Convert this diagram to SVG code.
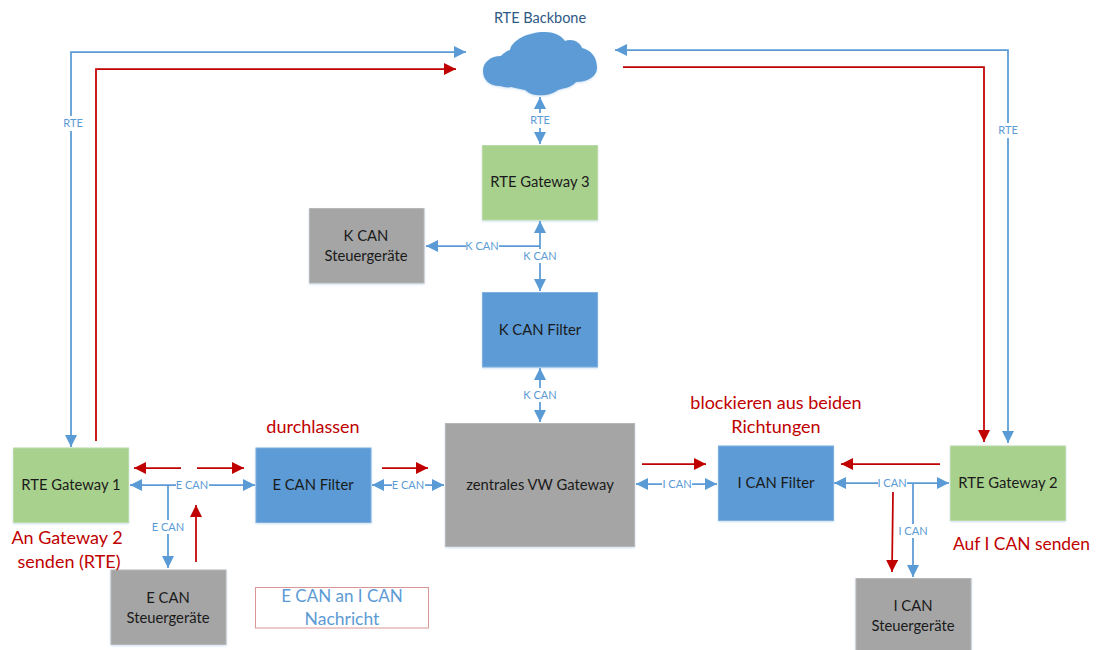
<svg xmlns="http://www.w3.org/2000/svg" width="1096" height="650" viewBox="0 0 1096 650">
<style>
text{font-family:"Lato","Liberation Sans",sans-serif;text-anchor:middle}
.n{stroke-width:1;filter:url(#sh)}
.g{fill:#A9D18E;stroke:#BBDBA6}
.b{fill:#5B9BD5;stroke:#7FB0DF}
.y{fill:#A5A5A5;stroke:#B7B7B7}
.t{font-size:14.8px;fill:#1a1a1a}
.l{font-size:11px;fill:#5B9BD5}
.r{font-size:18px;fill:#C00000}
.cb{fill:none;stroke:#5B9BD5;stroke-width:1.75}
.cr{fill:none;stroke:#C00000;stroke-width:1.75}
.lb{fill:#fff}
</style>
<defs>
<filter id="sh" x="-10%" y="-10%" width="120%" height="120%"><feDropShadow dx="0" dy="1" stdDeviation="1" flood-color="#5B9BD5" flood-opacity="0.3"/></filter>
<marker id="ab" viewBox="0 0 10 10" refX="10" refY="5" markerUnits="userSpaceOnUse" markerWidth="12" markerHeight="12" orient="auto-start-reverse"><path d="M0,0L10,5L0,10z" fill="#5B9BD5"/></marker>
<marker id="ar" viewBox="0 0 10 10" refX="10" refY="5" markerUnits="userSpaceOnUse" markerWidth="12" markerHeight="12" orient="auto-start-reverse"><path d="M0,0L10,5L0,10z" fill="#C00000"/></marker>
</defs>
<g id="connectors">
<path class="cb" marker-start="url(#ab)" marker-end="url(#ab)" d="M71,447V52H466"/>
<path class="cr" marker-end="url(#ar)" d="M96,441V69H456"/>
<path class="cb" marker-start="url(#ab)" marker-end="url(#ab)" d="M1008,443V50H615"/>
<path class="cr" marker-end="url(#ar)" d="M623,67H984V442"/>
<path class="cb" marker-start="url(#ab)" marker-end="url(#ab)" d="M540,97V144"/>
<path class="cb" marker-start="url(#ab)" marker-end="url(#ab)" d="M540,221V291"/>
<path class="cb" marker-end="url(#ab)" d="M540,246H426"/>
<path class="cb" marker-start="url(#ab)" marker-end="url(#ab)" d="M540,368V422"/>
<path class="cb" marker-start="url(#ab)" marker-end="url(#ab)" d="M130,485H255"/>
<path class="cb" marker-end="url(#ab)" d="M168,485V568"/>
<path class="cb" marker-start="url(#ab)" marker-end="url(#ab)" d="M372,485H444"/>
<path class="cb" marker-start="url(#ab)" marker-end="url(#ab)" d="M636,484H717"/>
<path class="cb" marker-start="url(#ab)" marker-end="url(#ab)" d="M834,483H949"/>
<path class="cb" marker-end="url(#ab)" d="M913,483V577"/>
<path class="cr" marker-end="url(#ar)" d="M181,468H134"/>
<path class="cr" marker-end="url(#ar)" d="M197,468H244"/>
<path class="cr" marker-end="url(#ar)" d="M196,562V505"/>
<path class="cr" marker-end="url(#ar)" d="M382,468H428"/>
<path class="cr" marker-end="url(#ar)" d="M642,464H706"/>
<path class="cr" marker-end="url(#ar)" d="M940,464H841"/>
<path class="cr" marker-end="url(#ar)" d="M893,492L892,572"/>
<rect class="lb" x="62" y="116" width="22" height="15"/><text class="l" x="73" y="127">RTE</text>
<rect class="lb" x="997" y="123" width="22" height="15"/><text class="l" x="1008" y="134">RTE</text>
<rect class="lb" x="529" y="113" width="22" height="15"/><text class="l" x="540" y="124">RTE</text>
<rect class="lb" x="466" y="239" width="33" height="14"/><text class="l" x="482" y="250">K CAN</text>
<rect class="lb" x="523" y="249" width="34" height="14"/><text class="l" x="540" y="260">K CAN</text>
<rect class="lb" x="523" y="388" width="34" height="14"/><text class="l" x="540" y="399">K CAN</text>
<rect class="lb" x="176" y="478" width="33" height="14"/><text class="l" x="192" y="489">E CAN</text>
<rect class="lb" x="152" y="520" width="33" height="14"/><text class="l" x="168" y="531">E CAN</text>
<rect class="lb" x="392" y="478" width="33" height="14"/><text class="l" x="408" y="489">E CAN</text>
<rect class="lb" x="662" y="477" width="30" height="14"/><text class="l" x="677" y="488">I CAN</text>
<rect class="lb" x="878" y="476" width="29" height="14"/><text class="l" x="892" y="487">I CAN</text>
<rect class="lb" x="899" y="524" width="28" height="14"/><text class="l" x="913" y="535">I CAN</text>
</g>
<g id="cloud"><path d="M483,71C483,62 491,56 501,56C503,54 506,51 510,50C512,40 528,32 545,32C553,32 561,35 565,41C572,38 580,42 582,48C591,50 597,57 597,68C597,76 588,82 576,82C572,87 565,88 558,90C552,95 535,99 525,90C520,89 515,88 511,87C508,88 504,87 500,86C490,86 483,80 483,71Z" fill="#5B9BD5" filter="url(#sh)"/><text x="540" y="23" font-size="14.500" fill="#2E5A85">RTE Backbone</text></g>
<g id="gw3"><rect class="n g" x="482.500" y="145.500" width="115" height="74.500"/><text class="t" x="540" y="187">RTE Gateway 3</text></g>
<g id="ksg"><rect class="n y" x="309.500" y="208.500" width="114.500" height="74.500"/><text class="t" x="366" y="241">K CAN</text><text class="t" x="366" y="261">Steuergeräte</text></g>
<g id="kf"><rect class="n b" x="482.500" y="292.500" width="115" height="74.500"/><text class="t" x="540" y="335">K CAN Filter</text></g>
<g id="gw1"><rect class="n g" x="13.500" y="448" width="115" height="74.500"/><text class="t" x="71" y="490">RTE Gateway 1</text></g>
<g id="ef"><rect class="n b" x="256" y="448" width="115" height="74.500"/><text class="t" x="313" y="490">E CAN Filter</text></g>
<g id="esg"><rect class="n y" x="111" y="570" width="115" height="74.500"/><text class="t" x="168" y="603">E CAN</text><text class="t" x="168" y="623">Steuergeräte</text></g>
<g id="zvw"><rect class="n y" x="445.500" y="423.500" width="189" height="123"/><text class="t" x="540" y="490">zentrales VW Gateway</text></g>
<g id="if"><rect class="n b" x="718.500" y="446" width="115" height="74.500"/><text class="t" x="776" y="488">I CAN Filter</text></g>
<g id="gw2"><rect class="n g" x="950.500" y="446" width="115" height="74.500"/><text class="t" x="1008" y="488">RTE Gateway 2</text></g>
<g id="isg"><rect class="n y" x="856" y="578.500" width="115" height="75"/><text class="t" x="913" y="611">I CAN</text><text class="t" x="913" y="631">Steuergeräte</text></g>
<g id="notes">
<text class="r" x="313" y="433">durchlassen</text>
<text class="r" x="776" y="409">blockieren aus beiden</text>
<text class="r" x="776" y="433">Richtungen</text>
<text class="r" x="67" y="544">An Gateway 2</text>
<text class="r" x="69" y="568">senden (RTE)</text>
<text class="r" x="1021.500" y="550" style="font-size:17.400px">Auf I CAN senden</text>
</g>
<g id="legend"><rect x="255.500" y="587.500" width="173" height="40.500" fill="#fff" stroke="#D99694"/><text x="342" y="602" font-size="17" fill="#5B9BD5">E CAN an I CAN</text><text x="342" y="625" font-size="17.500" fill="#5B9BD5">Nachricht</text></g>
</svg>
